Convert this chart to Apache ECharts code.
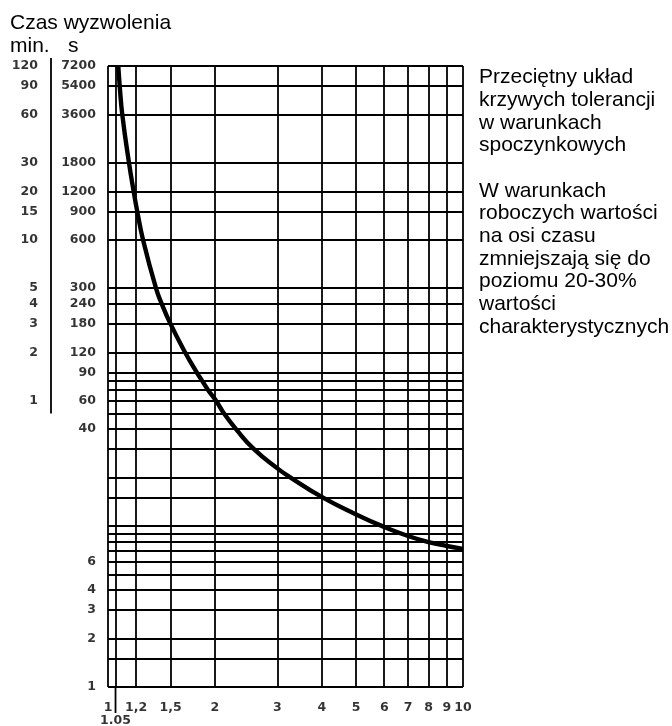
<!DOCTYPE html>
<html><head><meta charset="utf-8">
<script src="https://cdn.jsdelivr.net/npm/echarts@6/dist/echarts.min.js"></script>
<style>html,body{margin:0;padding:0;background:#fff}#c{width:672px;height:726px}</style>
</head><body><div id="c"></div>
<script>
// Curve: current multiple (x) vs tripping time in seconds (y)
const curveX   = [1.069, 1.079, 1.097, 1.146, 1.181, 1.209, 1.255, 1.365, 1.417, 1.500, 1.648, 1.778, 1.840, 1.913, 2.015, 2.122, 2.294, 2.578, 3, 3.268, 4.034, 5, 6, 7, 8, 9, 10];
const curveSec = [7200, 5400, 3600, 1800, 1200, 900, 600, 300, 240, 180, 120, 90, 80, 70, 60, 50, 40, 30, 22.8, 20, 15, 11.8, 9.86, 8.67, 7.95, 7.51, 7.2];

// Grid lines
const gridX   = [1, 1.05, 1.2, 1.5, 2, 3, 4, 5, 6, 7, 8, 9, 10];
const gridSec = [1, 1.5, 2, 3, 4, 5, 6, 7, 8, 9, 10, 15, 20, 30, 40, 50, 60, 70, 80, 90, 120, 180, 240, 300, 600, 900, 1200, 1800, 3600, 5400, 7200];

// Tick labels
const secTickValues = [7200, 5400, 3600, 1800, 1200, 900, 600, 300, 240, 180, 120, 90, 60, 40, 6, 4, 3, 2, 1];
const secTickLabels = ['7200', '5400', '3600', '1800', '1200', '900', '600', '300', '240', '180', '120', '90', '60', '40', '6', '4', '3', '2', '1'];
const minTickValues = [7200, 5400, 3600, 1800, 1200, 900, 600, 300, 240, 180, 120, 60];
const minTickLabels = ['120', '90', '60', '30', '20', '15', '10', '5', '4', '3', '2', '1'];
const xTickValues = [1, 1.2, 1.5, 2, 3, 4, 5, 6, 7, 8, 9, 10];
const xTickLabels = ['1', '1,2', '1,5', '2', '3', '4', '5', '6', '7', '8', '9', '10'];
const xExtraValues = [1.05];
const xExtraLabels = ['1.05'];

const titleText = 'Czas wyzwolenia';
const noteText = 'Przeciętny układ\nkrzywych tolerancji\nw warunkach\nspoczynkowych\n\nW warunkach\nroboczych wartości\nna osi czasu\nzmniejszają się do\npoziomu 20-30%\nwartości\ncharakterystycznych';

const chart = echarts.init(document.getElementById('c'), null, {renderer: 'canvas'});
const tickFont = {fontFamily: 'DejaVu Sans', fontWeight: 'bold', fontSize: 12.5, color: '#000'};
const gl = {color: '#000', width: 1.8, type: 'solid'};
const txt = {fontFamily: 'Liberation Sans', fontWeight: 'normal', fontSize: 21, color: '#000'};

function labelSeries(data, labels, pos, dist) {
  return {
    type: 'scatter', silent: true, clip: false, symbolSize: 0.1,
    itemStyle: {color: 'transparent'},
    data: data,
    label: Object.assign({show: true, position: pos, distance: dist,
      formatter: p => labels[p.dataIndex]}, tickFont),
    z: 5
  };
}

chart.setOption({
  animation: false,
  backgroundColor: '#fff',
  title: [
    {text: titleText, left: 10, top: 13, padding: 0, textStyle: txt},
    {text: 'min.', left: 10, top: 36, padding: 0, textStyle: txt},
    {text: 's', left: 68, top: 36, padding: 0, textStyle: txt},
    {text: noteText, left: 479, top: 66, padding: 0, textStyle: Object.assign({lineHeight: 22.7}, txt)}
  ],
  grid: {left: 108, top: 66, width: 355, height: 621, containLabel: false},
  xAxis: {type: 'log', logBase: 10, min: 1, max: 10, axisLine: {show: false}, axisTick: {show: false}, axisLabel: {show: false}, splitLine: {show: false}},
  yAxis: {type: 'log', logBase: 10, min: 1, max: 7200, axisLine: {show: false}, axisTick: {show: false}, axisLabel: {show: false}, splitLine: {show: false}},
  series: [
    {
      type: 'line', silent: true, symbol: 'none', data: [],
      markLine: {
        silent: true, symbol: 'none', label: {show: false}, animation: false,
        lineStyle: gl,
        data: gridX.map(v => ({xAxis: v})).concat(gridSec.map(v => ({yAxis: v})))
      }
    },
    {
      type: 'line', silent: true, symbol: 'none', smooth: 0.5, clip: true,
      lineStyle: {color: '#000', width: 4.4},
      data: curveX.map((x, i) => [x, curveSec[i]]),
      z: 4
    },
    labelSeries(secTickValues.map(v => [1, v]), secTickLabels, 'left', 12),
    labelSeries(minTickValues.map(v => [1, v]), minTickLabels, 'left', 70),
    labelSeries(xTickValues.map(v => [v, 1]), xTickLabels, 'bottom', 14),
    labelSeries(xExtraValues.map(v => [v, 1]), xExtraLabels, 'bottom', 27)
  ]
});

// decorative separators positioned through the axes' scales
const pBot = chart.convertToPixel({gridIndex: 0}, [xExtraValues[0], 1]);
const pTop = chart.convertToPixel({gridIndex: 0}, [1, 7200]);
const p50 = chart.convertToPixel({gridIndex: 0}, [1, 50]);
chart.setOption({
  graphic: [
    {type: 'line', silent: true, shape: {x1: pBot[0], y1: pBot[1], x2: pBot[0], y2: pBot[1] + 26}, style: {stroke: '#000', lineWidth: 1.8}},
    {type: 'line', silent: true, shape: {x1: pTop[0] - 57, y1: pTop[1] - 8, x2: pTop[0] - 57, y2: p50[1]}, style: {stroke: '#000', lineWidth: 1.8}}
  ]
});
</script></body></html>
